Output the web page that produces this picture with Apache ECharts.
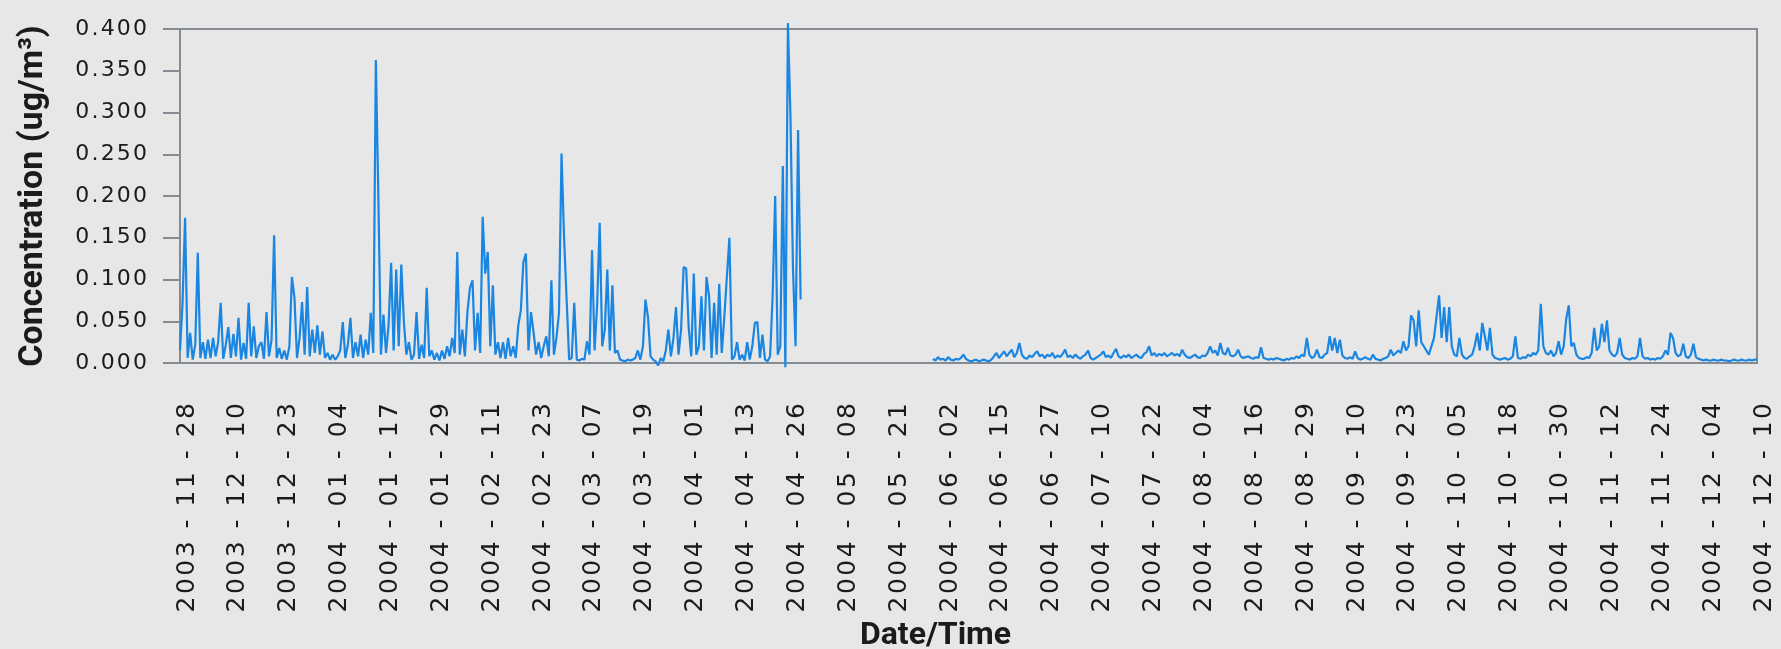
<!DOCTYPE html>
<html>
<head>
<meta charset="utf-8">
<title>Concentration time series</title>
<script src="https://cdn.jsdelivr.net/npm/echarts@6/dist/echarts.min.js"></script>
<style>
  html, body { margin: 0; padding: 0; background: #e7e7e7; }
  #chart { width: 1781px; height: 649px; }
</style>
</head>
<body>
<div id="chart"></div>
<script>
// Dates shown under the axis, one every 20 samples
const tickLabels = [
  '2003-11-28', '2003-12-10', '2003-12-23', '2004-01-04', '2004-01-17', '2004-01-29',
  '2004-02-11', '2004-02-23', '2004-03-07', '2004-03-19', '2004-04-01', '2004-04-13',
  '2004-04-26', '2004-05-08', '2004-05-21', '2004-06-02', '2004-06-15', '2004-06-27',
  '2004-07-10', '2004-07-22', '2004-08-04', '2004-08-16', '2004-08-29', '2004-09-10',
  '2004-09-23', '2004-10-05', '2004-10-18', '2004-10-30', '2004-11-12', '2004-11-24',
  '2004-12-04', '2004-12-10'
];
const samplesPerLabel = 20;

// Concentration (ug/m3), one row per labelled interval; null = no measurement
const concentration = [
  0.015, 0.072, 0.174, 0.006, 0.036, 0.004, 0.022, 0.132, 0.006, 0.025, 0.005, 0.028, 0.006, 0.030, 0.008, 0.025, 0.072, 0.005, 0.022, 0.043,
  0.006, 0.035, 0.008, 0.054, 0.004, 0.024, 0.005, 0.072, 0.008, 0.044, 0.006, 0.020, 0.025, 0.005, 0.061, 0.008, 0.028, 0.153, 0.006, 0.018,
  0.005, 0.015, 0.004, 0.020, 0.103, 0.078, 0.006, 0.030, 0.073, 0.010, 0.091, 0.008, 0.040, 0.012, 0.045, 0.010, 0.038, 0.006, 0.012, 0.004,
  0.010, 0.004, 0.008, 0.015, 0.049, 0.006, 0.022, 0.054, 0.006, 0.025, 0.008, 0.034, 0.006, 0.028, 0.010, 0.060, 0.012, 0.363, 0.195, 0.010,
  0.058, 0.012, 0.045, 0.120, 0.015, 0.112, 0.020, 0.118, 0.050, 0.010, 0.025, 0.004, 0.010, 0.061, 0.005, 0.022, 0.006, 0.090, 0.008, 0.015,
  0.004, 0.012, 0.003, 0.015, 0.005, 0.020, 0.008, 0.030, 0.012, 0.133, 0.010, 0.040, 0.008, 0.061, 0.090, 0.099, 0.015, 0.060, 0.012, 0.175,
  0.107, 0.133, 0.020, 0.093, 0.010, 0.025, 0.006, 0.025, 0.005, 0.030, 0.008, 0.020, 0.006, 0.045, 0.063, 0.121, 0.131, 0.015, 0.061, 0.037,
  0.010, 0.025, 0.006, 0.020, 0.032, 0.008, 0.099, 0.010, 0.030, 0.060, 0.251, 0.150, 0.076, 0.004, 0.006, 0.072, 0.004, 0.003, 0.005, 0.004,
  0.026, 0.010, 0.135, 0.015, 0.070, 0.168, 0.020, 0.040, 0.112, 0.015, 0.093, 0.012, 0.015, 0.004, 0.003, 0.002, 0.004, 0.003, 0.004, 0.006,
  0.015, 0.004, 0.020, 0.076, 0.055, 0.008, 0.004, 0.002, -0.003, 0.006, 0.002, 0.015, 0.040, 0.008, 0.030, 0.067, 0.010, 0.040, 0.115, 0.113,
  0.042, 0.008, 0.107, 0.010, 0.020, 0.080, 0.015, 0.103, 0.080, 0.006, 0.072, 0.010, 0.095, 0.012, 0.055, 0.103, 0.150, 0.004, 0.008, 0.025,
  0.004, 0.010, 0.003, 0.025, 0.004, 0.020, 0.048, 0.049, 0.006, 0.034, 0.004, 0.002, 0.008, 0.081, 0.200, 0.010, 0.020, 0.236, -0.005, 0.407,
  0.296, 0.113, 0.020, 0.279, 0.076, null, null, null, null, null, null, null, null, null, null, null, null, null, null, null,
  null, null, null, null, null, null, null, null, null, null, null, null, null, null, null, null, null, null, null, null,
  null, null, null, null, null, null, null, null, null, null, null, null, null, null, null, null, 0.005, 0.003, 0.007, 0.004,
  0.005, 0.003, 0.007, 0.004, 0.003, 0.005, 0.004, 0.006, 0.010, 0.005, 0.003, 0.002, 0.003, 0.004, 0.002, 0.003, 0.004, 0.003, 0.002, 0.004,
  0.008, 0.012, 0.006, 0.010, 0.014, 0.008, 0.012, 0.016, 0.007, 0.012, 0.024, 0.010, 0.006, 0.005, 0.009, 0.007, 0.011, 0.014, 0.008, 0.010,
  0.006, 0.010, 0.008, 0.012, 0.006, 0.009, 0.007, 0.011, 0.016, 0.007, 0.009, 0.006, 0.010, 0.007, 0.005, 0.008, 0.010, 0.015, 0.006, 0.004,
  0.006, 0.008, 0.010, 0.014, 0.007, 0.009, 0.006, 0.012, 0.017, 0.008, 0.006, 0.009, 0.007, 0.010, 0.006, 0.008, 0.010, 0.007, 0.006, 0.011,
  0.013, 0.020, 0.009, 0.012, 0.008, 0.011, 0.009, 0.012, 0.008, 0.010, 0.012, 0.009, 0.011, 0.008, 0.016, 0.010, 0.007, 0.006, 0.008, 0.010,
  0.007, 0.006, 0.009, 0.008, 0.012, 0.020, 0.012, 0.015, 0.009, 0.024, 0.012, 0.010, 0.018, 0.009, 0.008, 0.010, 0.016, 0.008, 0.006, 0.007,
  0.008, 0.006, 0.005, 0.007, 0.006, 0.019, 0.006, 0.005, 0.004, 0.005, 0.004, 0.006, 0.005, 0.004, 0.003, 0.005, 0.004, 0.006, 0.005, 0.008,
  0.006, 0.010, 0.008, 0.030, 0.010, 0.006, 0.008, 0.016, 0.007, 0.006, 0.010, 0.012, 0.032, 0.015, 0.030, 0.012, 0.028, 0.009, 0.006, 0.005,
  0.007, 0.005, 0.014, 0.006, 0.004, 0.005, 0.007, 0.005, 0.004, 0.010, 0.005, 0.004, 0.003, 0.005, 0.006, 0.008, 0.016, 0.009, 0.012, 0.015,
  0.012, 0.026, 0.015, 0.020, 0.057, 0.051, 0.020, 0.063, 0.025, 0.020, 0.015, 0.010, 0.020, 0.030, 0.055, 0.081, 0.030, 0.067, 0.025, 0.067,
  0.020, 0.010, 0.008, 0.030, 0.010, 0.006, 0.005, 0.008, 0.010, 0.020, 0.036, 0.015, 0.048, 0.032, 0.015, 0.042, 0.010, 0.006, 0.005, 0.004,
  0.005, 0.006, 0.004, 0.005, 0.008, 0.032, 0.006, 0.005, 0.007, 0.006, 0.010, 0.008, 0.012, 0.010, 0.015, 0.071, 0.020, 0.012, 0.010, 0.015,
  0.008, 0.012, 0.026, 0.010, 0.020, 0.053, 0.069, 0.020, 0.024, 0.010, 0.006, 0.005, 0.005, 0.007, 0.006, 0.012, 0.042, 0.015, 0.020, 0.047,
  0.025, 0.051, 0.015, 0.010, 0.008, 0.012, 0.030, 0.010, 0.006, 0.005, 0.004, 0.006, 0.005, 0.008, 0.030, 0.008, 0.005, 0.006, 0.004, 0.005,
  0.004, 0.006, 0.005, 0.008, 0.015, 0.010, 0.036, 0.030, 0.012, 0.008, 0.010, 0.023, 0.008, 0.006, 0.010, 0.023, 0.007, 0.005, 0.004, 0.003,
  0.004, 0.003, 0.003, 0.004, 0.003, 0.003, 0.004, 0.003, 0.003, 0.002, 0.003, 0.004, 0.003, 0.003, 0.004, 0.003, 0.003, 0.004, 0.003, 0.004,
  0.004
];

// Category axis: a date string at every labelled sample, blank elsewhere
const categories = concentration.map((_, i) =>
  i % samplesPerLabel === 0 ? (tickLabels[i / samplesPerLabel] || '') : '');

// Tick labels are set with open tracking: hair spaces between the glyphs
const HAIR = '\u200A';
const tracked = s => s.split('').join(HAIR);

const frameColor = '#848b92';
const textColor = '#1b1b1b';
const titleFont = 'Roboto, "Liberation Sans", sans-serif';
const tickFont = '"DejaVu Sans", sans-serif';

const chart = echarts.init(document.getElementById('chart'), null, { renderer: 'canvas' });
chart.setOption({
  backgroundColor: '#e7e7e7',
  animation: false,
  grid: {
    left: 180, right: 24, top: 29, bottom: 286,
    outerBoundsMode: 'none',
    containLabel: false,
    show: true, borderColor: frameColor, borderWidth: 2, backgroundColor: 'transparent'
  },
  xAxis: {
    type: 'category',
    data: categories,
    boundaryGap: false,
    name: 'Date/Time',
    nameLocation: 'middle',
    nameGap: 256,
    nameTextStyle: {
      fontFamily: titleFont, fontWeight: 'bold', fontSize: 32, color: textColor,
      padding: [0, 66, 0, 0]
    },
    axisLine: { lineStyle: { color: frameColor, width: 2 } },
    axisTick: { show: false },
    axisLabel: {
      interval: samplesPerLabel - 1,
      rotate: 90,
      margin: 40,
      verticalAlign: 'top',
      lineHeight: 14,
      fontFamily: tickFont,
      fontSize: 25,
      color: textColor,
      formatter: v => tracked(v.replace(/-/g, ' - '))
    },
    splitLine: { show: false }
  },
  yAxis: {
    type: 'value',
    min: 0, max: 0.4, interval: 0.05,
    name: 'Concentration (ug/m³)',
    nameLocation: 'middle',
    nameGap: 130,
    nameRotate: 90,
    nameTextStyle: { fontFamily: titleFont, fontWeight: 'bold', fontSize: 34, color: textColor },
    axisLine: { show: true, lineStyle: { color: frameColor, width: 2 } },
    axisTick: { show: true, inside: false, length: 17, lineStyle: { color: frameColor, width: 2 } },
    axisLabel: {
      margin: 33,
      fontFamily: tickFont,
      fontSize: 22,
      color: textColor,
      formatter: v => tracked(v.toFixed(3))
    },
    splitLine: { show: false }
  },
  series: [{
    type: 'line',
    data: concentration,
    showSymbol: false,
    connectNulls: false,
    clip: false,
    sampling: null,
    lineStyle: { color: '#1a86e2', width: 2.2 },
    emphasis: { disabled: true }
  }]
});
</script>
</body>
</html>
